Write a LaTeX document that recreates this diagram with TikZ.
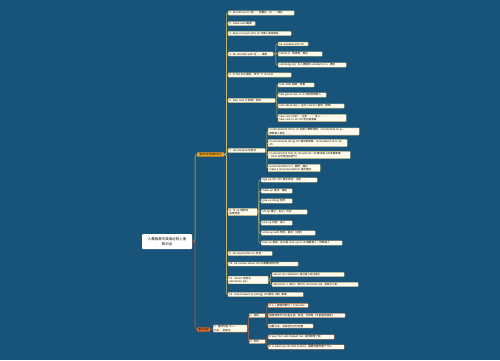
\documentclass[tikz,border=0pt]{standalone}
\usepackage{fontspec}
\newfontfamily\cjk{Noto Sans CJK SC}
\definecolor{bg}{RGB}{24,84,121}
\definecolor{lineA}{RGB}{196,178,112}
\definecolor{lineB}{RGB}{196,104,58}
\definecolor{leaffill}{RGB}{255,251,236}
\definecolor{orgA}{RGB}{240,166,42}
\definecolor{orgB}{RGB}{232,106,40}
\tikzset{
  base/.style={font=\cjk\fontsize{2.6}{3.2}\selectfont, inner xsep=1.2pt, inner ysep=0.8pt,
    anchor=west, align=left, rounded corners=0.6pt},
  lf/.style={base, draw=lineA, fill=leaffill, line width=0.3pt, text width=#1},
  lfb/.style={lf=#1, draw=lineB},
  rootnode/.style={font=\cjk\fontsize{3.5}{4.6}\selectfont, fill=white, align=center,
    minimum width=50pt, minimum height=15pt, inner sep=1pt, rounded corners=1pt},
  orgnode/.style={font=\cjk\fontsize{2.5}{3}\selectfont, draw=#1!70!black, fill=#1,
    line width=0.3pt, anchor=west, inner xsep=1.2pt, inner ysep=0.9pt, rounded corners=0.6pt},
  cA/.style={draw=lineA, line width=0.5pt, rounded corners=1.2pt},
  cB/.style={draw=lineB, line width=0.5pt, rounded corners=1.2pt},
  trA/.style={draw=lineA!80!black, line width=1pt, rounded corners=2pt},
  trB/.style={draw=lineB!80!black, line width=1pt, rounded corners=2pt}
}
\begin{document}
\begin{tikzpicture}[x=1pt,y=-1pt]
\useasboundingbox (0,0) rectangle (500,360);
\fill[bg] (0,0) rectangle (500,360);

% root and main branches
\node[rootnode] (root) at (167,241.5) {人教版高中英语必修上册\\知识点};
\node[orgnode=orgA, minimum width=27pt] (o1) at (197,154.5) {重点词汇短语知识点};
\node[orgnode=orgB, minimum width=13pt] (o2) at (197,329.5) {重点句型};
\coordinate (tk) at (195,241.5);
\draw[trA] (root.east) -- (tk) |- (o1.west);
\draw[trB] (root.east) -- (tk) |- (o2.west);

% level 2 (upper)
\node[lf=63.6pt] (a1) at (228,13) {1. be famous for 因……而著名；以……闻名};
\node[lf=24.6pt] (a2) at (228,23.5) {2. make sure 确保};
\node[lf=60.6pt] (a3) at (228,33.5) {3. keep in touch with sb 与某人保持联系};
\node[lf=42.6pt] (a4) at (228,54) {4. be satisfied with 对……满意};
\node[lf=60.6pt] (a5) at (228,75) {5. in the end 最后；终于（= at last）};
\node[lf=44.6pt] (a6) at (228,100.5) {6. take care of 照顾；照料};
\node[lf=34.6pt] (a7) at (228,150.5) {7. recommend 的用法};
\node[lf=26.6pt] (a8) at (228,212) {8. 与 up 搭配的\\常用短语};
\node[lf=41.6pt] (a9) at (228,253.5) {9. be responsible for 负责};
\node[lf=67.6pt] (a10) at (228,264) {10. be curious about sth 对某事感到好奇};
\node[lf=37.6pt] (a11) at (228,280) {11. attract 的用法\\(attractive adj.)};
\node[lf=72.6pt] (a12) at (228,294.5) {12. look forward to (doing) sth 期待（做）某事};
\foreach \n in {a1,a2,a3,a4,a5,a6,a7,a8,a9,a10,a11,a12}
  \draw[cA] (o1.east) -- ++(2,0) |- (\n.west);

% children of a4
\node[lf=27.6pt] (b41) at (278,44) {be satisfied with sth};
\node[lf=41.6pt] (b42) at (278,54) {satisfy vt. 使满意；满足};
\node[lf=65.6pt] (b43) at (278,65) {satisfying adj. 令人满意的 satisfaction n. 满意};
\foreach \n in {b41,b42,b43} \draw[cA] (a4.east) -- ++(2.5,0) |- (\n.west);

% children of a6
\node[lf=33.6pt] (b61) at (278,85) {look after 照顾；照看};
\node[lf=45.6pt] (b62) at (278,95) {take good care of sb 好好照顾某人};
\node[lf=63.6pt] (b63) at (278,106) {care about 关心；在乎 care for 喜欢；照顾};
\node[lf=65.6pt] (b64) at (278,118) {take care (that)... 注意……；当心……\\take care to do sth 务必做某事};
\foreach \n in {b61,b62,b63,b64} \draw[cA] (a6.east) -- ++(1.5,0) |- (\n.west);

% children of a7
\node[lf=88.6pt] (b71) at (268,131.5) {1) recommend sth to sb 向某人推荐某物；recommend sb as...\\推荐某人担任……};
\node[lf=76.6pt] (b72) at (268,143) {2) recommend doing sth 建议做某事；recommend sb to do sth};
\node[lf=79.6pt] (b73) at (268,155) {3) recommend that sb (should) do sth 建议某人应该做某事\\（that 从句用虚拟语气）};
\node[lf=49.6pt] (b74) at (268,168) {recommendation n. 推荐；建议\\make a recommendation 提出建议};
\foreach \n in {b71,b72,b73,b74} \draw[cA] (a7.east) -- ++(1.5,0) |- (\n.west);

% children of a8
\node[lf=53.6pt] (b81) at (261,180) {sign up (for sth) 报名参加；注册};
\node[lf=28.6pt] (b82) at (261,191) {make up 组成；编造};
\node[lf=28.6pt] (b83) at (261,201) {give up doing 放弃};
\node[lf=43.6pt] (b84) at (261,212) {set up 建立；设立；开办};
\node[lf=28.6pt] (b85) at (261,223) {pick up 捡起；接人};
\node[lf=51.6pt] (b86) at (261,233) {come up with 想出；提出（主意）};
\node[lf=78.6pt] (b87) at (261,243) {look up 查阅；抬头看 look up to sb 尊敬某人；钦佩某人};
\foreach \n in {b81,b82,b83,b84,b85,b86,b87} \draw[cA] (a8.east) -- ++(1.5,0) |- (\n.west);

% children of a11
\node[lf=69.6pt] (b111) at (272,274.5) {attract sb's attention 吸引某人的注意力};
\node[lf=83.6pt] (b112) at (272,284.5) {attraction n. 吸引；吸引力 attractive adj. 有吸引力的};
\foreach \n in {b111,b112} \draw[cA] (a11.east) -- ++(2,0) |- (\n.west);

% lower branch
\node[lfb=31.6pt] (d1) at (213,328.5) {1. 强调句型 It is...\\that... 的用法};
\draw[cB] (o2.east) -- (d1.west);
\node[lfb=13.6pt] (m1) at (249,315.5) {1. 结构};
\node[lfb=13.6pt] (m2) at (249,341.5) {2. 例句};
\foreach \n in {m1,m2} \draw[cB] (d1.east) -- ++(1.2,0) |- (\n.west);
\node[lfb=37.6pt] (l1) at (268,305.5) {It is + 被强调部分 + that/who...};
\node[lfb=74.6pt] (l2) at (268,315.5) {被强调部分可以是主语、宾语、状语等（不能强调谓语）};
\node[lfb=42.6pt] (l3) at (268,326) {判断方法：去掉后句子仍完整};
\foreach \n in {l1,l2,l3} \draw[cB] (m1.east) -- ++(1.5,0) |- (\n.west);
\node[lfb=63.6pt] (l4) at (268,337) {It was Tom who helped me. 是汤姆帮了我};
\node[lfb=73.6pt] (l5) at (268,347) {It is what you do that matters. 重要的是你做了什么};
\foreach \n in {l4,l5} \draw[cB] (m2.east) -- ++(1.5,0) |- (\n.west);
\end{tikzpicture}
\end{document}
